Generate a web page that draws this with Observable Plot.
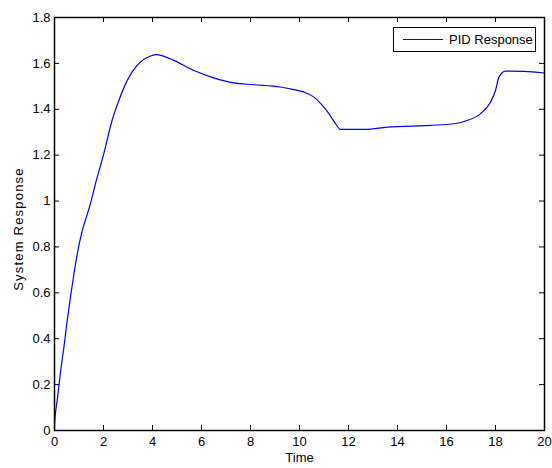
<!DOCTYPE html>
<html>
<head>
<meta charset="utf-8">
<script src="https://cdn.jsdelivr.net/npm/d3@7"></script>
<script src="https://cdn.jsdelivr.net/npm/@observablehq/plot@0.6"></script>
<style>
  html, body { margin: 0; padding: 0; background: #fff; }
  #wrap { position: relative; width: 552px; height: 468px; font-family: "Liberation Sans", Arial, sans-serif; }
  #legend {
    position: absolute; left: 393px; top: 27px; width: 143px; height: 25px;
    box-sizing: border-box; border: 1px solid #000; background: #fff;
    display: flex; align-items: center; font-size: 13px; color: #000;
  }
  #legend .swatch { width: 40px; height: 0; border-top: 1px solid #0000ff; margin: 0 6px 0 9px; }
</style>
</head>
<body>
<div id="wrap">
  <div id="chart"></div>
  <div id="legend"><span class="swatch"></span><span>PID Response</span></div>
</div>
<script>
// PID closed-loop step response sampled over time (seconds)
const time = [0, 0.01, 0.11, 0.24, 0.38, 0.52, 0.65, 0.79, 0.93, 1.13, 1.33, 1.47, 1.67, 2.01, 2.35, 2.63, 2.97, 3.37, 3.92, 4.2, 4.33, 4.87, 5.69, 6.5, 7.32, 8.13, 9.22, 9.77, 10.18, 10.59, 10.93, 11.2, 11.47, 11.67, 12.69, 13.58, 15.35, 16.3, 16.84, 17.39, 17.8, 18.0, 18.14, 18.41, 19.16, 20];
const response = [0, 0.04, 0.13, 0.25, 0.36, 0.48, 0.58, 0.68, 0.77, 0.87, 0.94, 0.99, 1.075, 1.206, 1.351, 1.439, 1.526, 1.591, 1.632, 1.638, 1.635, 1.613, 1.569, 1.537, 1.515, 1.507, 1.497, 1.486, 1.475, 1.453, 1.417, 1.381, 1.337, 1.312, 1.312, 1.322, 1.33, 1.337, 1.351, 1.381, 1.432, 1.482, 1.54, 1.566, 1.565, 1.558];

const xTicks = [0, 2, 4, 6, 8, 10, 12, 14, 16, 18, 20];
const yTicks = [0, 0.2, 0.4, 0.6, 0.8, 1, 1.2, 1.4, 1.6, 1.8];

const data = time.map((t, i) => ({t, v: response[i]}));

const W = 552, H = 468;
const mL = 54, mR = 8, mT = 17, mB = 38;
const innerW = W - mL - mR, innerH = H - mT - mB;
const tickLen = 5;

const yLabel = "System Response";

const chart = Plot.plot({
  width: W,
  height: H,
  marginLeft: mL,
  marginRight: mR,
  marginTop: mT,
  marginBottom: mB,
  style: {fontFamily: "Liberation Sans, Arial, sans-serif", fontSize: "13px", color: "#000", background: "#fff"},
  x: {domain: [0, 20]},
  y: {domain: [0, 1.8]},
  marks: [
    // inward tick marks on all four sides
    Plot.tickX(xTicks, {x: d => d, insetTop: innerH - tickLen, stroke: "#000"}),
    Plot.tickX(xTicks, {x: d => d, insetBottom: innerH - tickLen, stroke: "#000"}),
    Plot.tickY(yTicks, {y: d => d, insetRight: innerW - tickLen, stroke: "#000"}),
    Plot.tickY(yTicks, {y: d => d, insetLeft: innerW - tickLen, stroke: "#000"}),
    Plot.axisX(xTicks, {tickSize: 0, tickPadding: 6, fontSize: 13, label: null,
      tickFormat: d => String(d)}),
    Plot.axisY(yTicks, {tickSize: 0, tickPadding: 4, fontSize: 13, label: null,
      tickFormat: d => String(d)}),
    Plot.line(data, {x: "t", y: "v", stroke: "#0000ff", strokeWidth: 1.2, curve: "monotone-x"}),
    Plot.frame({stroke: "#000", strokeWidth: 1.5}),
    Plot.text(["Time"], {frameAnchor: "bottom", dy: 31, fontSize: 13}),
    Plot.text([yLabel], {frameAnchor: "left", dx: -36, dy: 5, rotate: -90,
      textAnchor: "middle", fontSize: 13})
  ]
});

// widen the spacing of the rotated axis title
d3.select(chart).selectAll("text")
  .filter(function() { return this.textContent === yLabel; })
  .style("letter-spacing", "1.2px");

document.getElementById("chart").append(chart);
</script>
</body>
</html>
